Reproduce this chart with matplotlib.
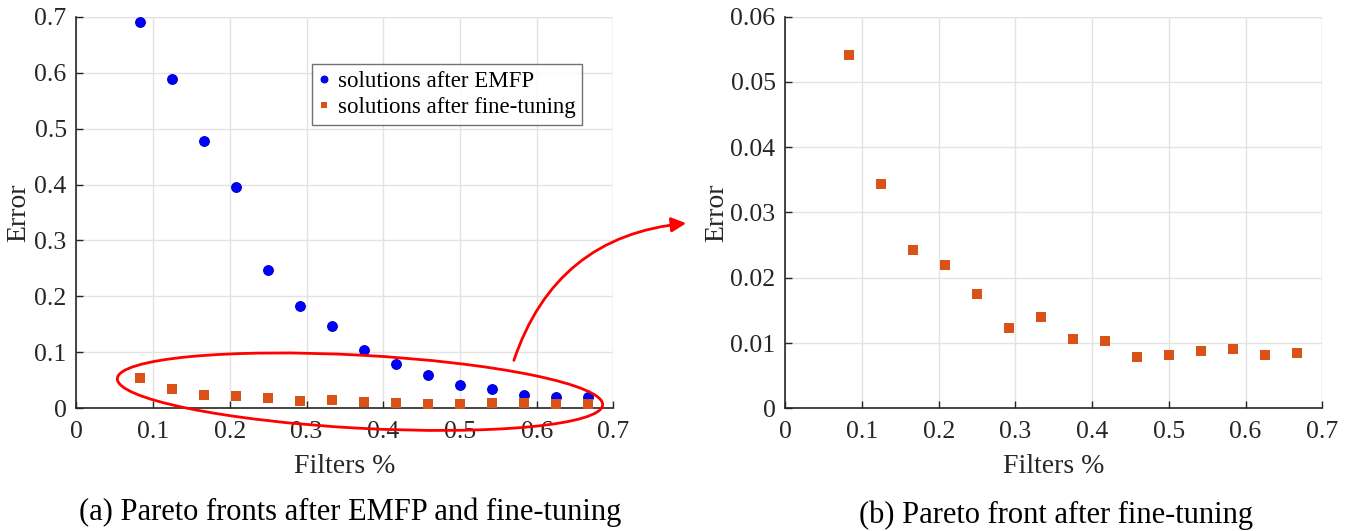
import numpy as np
import matplotlib
matplotlib.use("Agg")
import matplotlib.pyplot as plt
from matplotlib.patches import Ellipse, FancyArrowPatch
from matplotlib.transforms import IdentityTransform

plt.rcParams['font.family'] = ['Liberation Serif', 'DejaVu Serif']

# fraction of filters kept for each solution on the front
filters = [0.0833, 0.125, 0.1667, 0.2083, 0.25, 0.2917, 0.3333, 0.375,
           0.4167, 0.4583, 0.5, 0.5417, 0.5833, 0.625, 0.6667]
err_emfp = [0.691, 0.589, 0.478, 0.395, 0.248, 0.183, 0.147, 0.105,
            0.079, 0.060, 0.042, 0.034, 0.024, 0.021, 0.020]
err_tuned = [0.0541, 0.0343, 0.0243, 0.0220, 0.0175, 0.0123, 0.0140, 0.0106,
             0.0103, 0.0079, 0.0082, 0.0088, 0.0091, 0.0081, 0.0084]

BLUE = '#0000ff'
ORANGE = '#d95319'
GRID = '#e3e3e3'
AX = '#262626'

fig = plt.figure(figsize=(13.52, 5.31), dpi=100)
ax1 = fig.add_axes([0.0565, 0.2311, 0.3972, 0.7375])
ax2 = fig.add_axes([0.5808, 0.2311, 0.3972, 0.7375])


def style(ax, ymax, ystep, yfmt, ylx):
    ax.set_xlim(0, 0.7)
    ax.set_ylim(0, ymax)
    ax.set_xticks(np.arange(0, 0.71, 0.1))
    ax.set_xticklabels(['0'] + ['%.1f' % v for v in np.arange(0.1, 0.71, 0.1)])
    yt = np.arange(0, ymax + ystep / 2, ystep)
    ax.set_yticks(yt)
    ax.set_yticklabels(['0'] + [yfmt % v for v in yt[1:]])
    ax.grid(True, color=GRID, linewidth=1.0)
    ax.set_axisbelow(True)
    for s in ['top', 'right']:
        ax.spines[s].set_visible(False)
    for s in ['left', 'bottom']:
        ax.spines[s].set_color(AX)
        ax.spines[s].set_linewidth(1.2)
    # gridlines along the open top and right edges
    ax.axhline(ymax, color=GRID, linewidth=1.0, zorder=0.5)
    ax.axvline(0.7, color=GRID, linewidth=1.0, zorder=0.5)
    ax.tick_params(direction='in', length=5, width=1.0, color=AX,
                   labelsize=18.5, labelcolor=AX)
    ax.tick_params(axis='x', pad=9)
    ax.tick_params(axis='y', pad=7)
    ax.set_xlabel('Filters %', fontsize=20, color=AX, labelpad=8)
    ax.set_ylabel('Error', fontsize=20, color=AX)
    ax.yaxis.set_label_coords(ylx, 0.5)


style(ax1, 0.7, 0.1, '%.1f', -0.084)
style(ax2, 0.06, 0.01, '%.2f', -0.104)

ax1.plot(filters, err_emfp, 'o', color=BLUE, markersize=7, mec='#0000c8',
         mew=0.8, linestyle='none', label='solutions after EMFP', zorder=3)
ax1.plot(filters, err_tuned, 's', color=ORANGE, markersize=6.8, mew=0,
         linestyle='none', label='solutions after fine-tuning', zorder=3)
leg = ax1.legend(loc='upper left', bbox_to_anchor=(0.438, 0.878), fontsize=16.5,
                 frameon=True, fancybox=False, edgecolor='#4d4d4d',
                 handlelength=0.5, handletextpad=0.35, borderpad=0.3,
                 labelspacing=0.2, markerscale=0.7, borderaxespad=0)
leg.get_frame().set_linewidth(1.0)

ax2.plot(filters, err_tuned, 's', color=ORANGE, markersize=6.8, mew=0,
         linestyle='none', zorder=3)

# highlight the fine-tuned front and point to the zoomed view (pixel coordinates)
H = 531
ell = Ellipse((360, H - 391.7), width=486, height=73, angle=-3.1,
              transform=IdentityTransform(), fill=False, edgecolor='#ff0000',
              linewidth=2.0, clip_on=False)
fig.patches.append(ell)
arr = FancyArrowPatch((513, H - 363), (689, H - 223),
                      connectionstyle='arc3,rad=-0.33', arrowstyle='-|>',
                      mutation_scale=22, color='#ff0000', linewidth=2.0,
                      transform=IdentityTransform())
fig.patches.append(arr)

fig.text(350 / 1352, 1 - 512 / H, '(a) Pareto fronts after EMFP and fine-tuning',
         ha='center', va='center', fontsize=22, color='black')
fig.text(1056 / 1352, 1 - 515 / H, '(b) Pareto front after fine-tuning',
         ha='center', va='center', fontsize=22, color='black')

fig.savefig('out.png', dpi=100)
